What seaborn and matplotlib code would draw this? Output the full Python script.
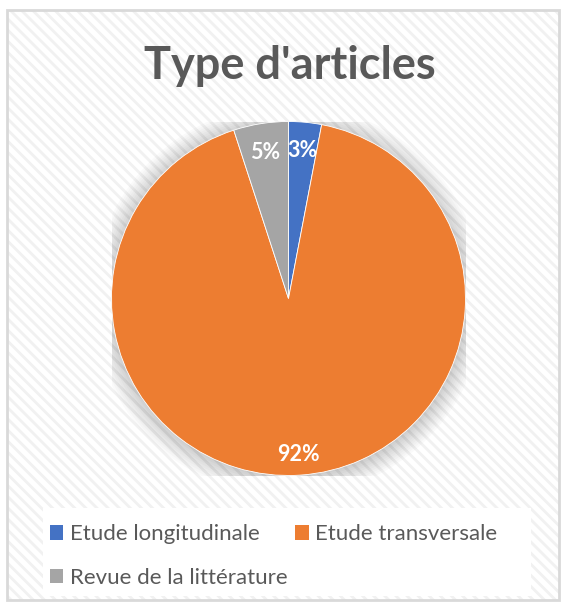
import matplotlib
matplotlib.use("Agg")
import matplotlib.pyplot as plt
import seaborn as sns
from matplotlib.patches import Rectangle, Circle

# data
categories = ["Etude longitudinale", "Etude transversale", "Revue de la littérature"]
values = [3, 92, 5]
colors = ["#4472C4", "#ED7D31", "#A5A5A5"]

sns.set_theme(style="white")
plt.rcParams["font.family"] = ["Lato", "DejaVu Sans"]
plt.rcParams["hatch.linewidth"] = 2.0

W, H = 562, 604
fig = plt.figure(figsize=(W / 100, H / 100), dpi=100)
fig.patch.set_facecolor("white")

# hatched chart area with light border
bg = Rectangle((7 / W, 4 / H), 552 / W, 590 / H, transform=fig.transFigure,
               facecolor="white", edgecolor="#f1f1f1", hatch="\\\\\\", lw=0, zorder=0)
fig.patches.append(bg)
border = Rectangle((7 / W, 4 / H), 552 / W, 590 / H, transform=fig.transFigure,
                   facecolor="none", edgecolor="#d9d9d9", lw=2, zorder=1)
fig.patches.append(border)

# white legend box
legbox = Rectangle((43 / W, 8 / H), 488 / W, 88 / H, transform=fig.transFigure,
                   facecolor="white", edgecolor="none", zorder=1)
fig.patches.append(legbox)

fig.text(290 / W, 1 - 66 / H, "Type d'articles", ha="center", va="center",
         fontsize=32.5, fontweight="bold", color="#595959", zorder=3)

# pie centred at (288.5, 298.5) px, radius 177 px
ax = fig.add_axes([111.5 / W, (H - 475.5) / H, 354 / W, 354 / H])
ax.set_zorder(4)
ax.axis("off")
ax.patch.set_alpha(0)

# soft shadow
for i in range(10):
    ax.add_patch(Circle((0, -0.01), 1.0 + i * 0.012, facecolor="black",
                        alpha=0.02, edgecolor="none", zorder=0))

wedges, texts, autotexts = ax.pie(
    values, colors=colors, startangle=90, counterclock=False, radius=1.0,
    autopct="%1.0f%%", pctdistance=0.86,
    wedgeprops=dict(edgecolor="white", linewidth=0.6),
    textprops=dict(color="white", fontsize=15.5, fontweight="bold"))
for w in wedges:
    w.set_zorder(2)
for t in autotexts:
    t.set_zorder(3)
    x, y = t.get_position()
    t.set_position((x, y - 0.022))
ax.set_aspect("equal")
ax.set_xlim(-1.0, 1.0)
ax.set_ylim(-1.0, 1.0)

order = [0, 2, 1]
leg = fig.legend([wedges[i] for i in order], [categories[i] for i in order],
                 loc="center left", bbox_to_anchor=(30 / W, 48 / H), ncol=2,
                 frameon=False, fontsize=16, handlelength=0.6, handleheight=0.6,
                 handletextpad=0.3, columnspacing=0.35, labelspacing=1.05,
                 labelcolor="#595959")
leg.set_zorder(5)
for h in leg.legend_handles:
    h.set_edgecolor("none")

fig.savefig("out.png", dpi=100, facecolor="white")
